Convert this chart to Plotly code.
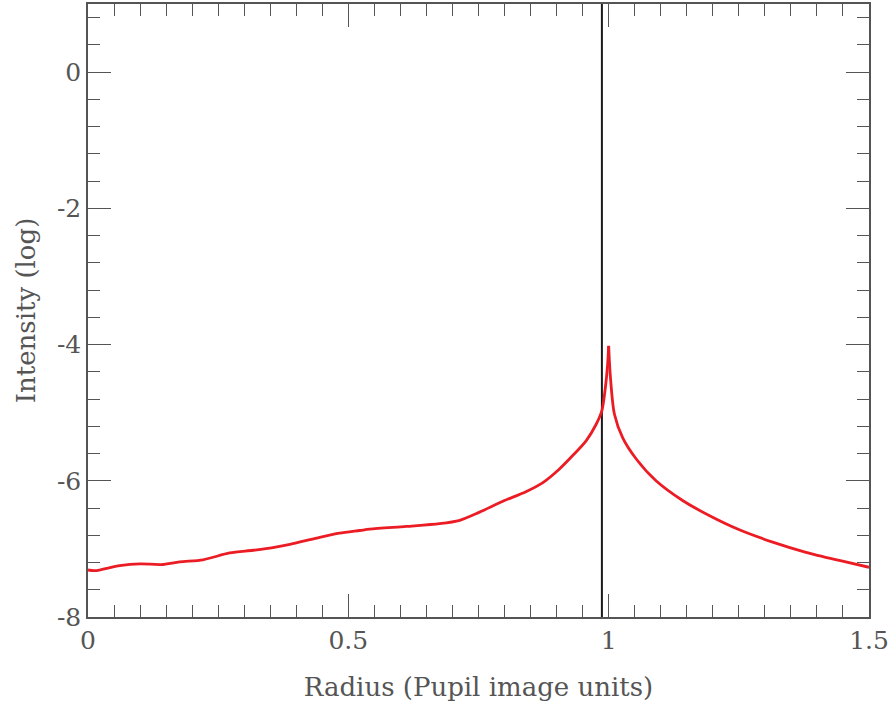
import plotly.graph_objects as go

# Radial intensity profile (log10 scale) across the pupil image
radius = [0.0, 0.013, 0.061, 0.100, 0.141, 0.176, 0.221, 0.272, 0.317, 0.355,
          0.400, 0.445, 0.483, 0.522, 0.541, 0.611, 0.675, 0.714, 0.752, 0.797,
          0.841, 0.873, 0.905, 0.931, 0.957, 0.976, 0.987, 0.9937, 0.998, 1.000,
          1.003, 1.011, 1.027, 1.053, 1.091, 1.142, 1.193, 1.251, 1.315, 1.379,
          1.443, 1.500]
intensity = [-7.31, -7.32, -7.245, -7.22, -7.23, -7.19, -7.16, -7.06, -7.02, -6.98,
             -6.91, -6.83, -6.77, -6.73, -6.71, -6.67, -6.63, -6.58, -6.46, -6.30,
             -6.16, -6.03, -5.83, -5.63, -5.41, -5.17, -4.97, -4.63, -4.29, -4.02,
             -4.44, -5.02, -5.37, -5.68, -6.00, -6.29, -6.51, -6.72, -6.90, -7.05,
             -7.17, -7.27]

# Pupil edge marker
edge_radius = 0.987

x_tickvals = [0, 0.5, 1, 1.5]
x_ticktext = ["0", "0.5", "1", "1.5"]
y_tickvals = [0, -2, -4, -6, -8]
y_ticktext = ["0", "-2", "-4", "-6", "-8"]

grey = "#555555"
red = "#ec1c24"
family = "DejaVu Serif, Liberation Serif, serif"
tick_font = dict(family=family, size=25, color=grey)
title_font = dict(family=family, size=26, color=grey)

fig = go.Figure()
fig.add_trace(go.Scatter(x=[edge_radius, edge_radius], y=[-8, 1], mode="lines",
                         line=dict(color="#1a1a1a", width=2), hoverinfo="skip"))

# The profile peaks in a sharp cusp: draw each flank as its own smooth curve
peak = intensity.index(max(intensity))
for sl in (slice(0, peak + 1), slice(peak, None)):
    fig.add_trace(go.Scatter(x=radius[sl], y=intensity[sl], mode="lines",
                             line=dict(color=red, width=2.8, shape="spline",
                                       smoothing=0.8)))

axis_common = dict(
    showline=True, linecolor=grey, linewidth=1.5, mirror="ticks",
    ticks="inside", tickcolor=grey, tickwidth=1.2, ticklen=23,
    showgrid=False, zeroline=False, tickfont=tick_font,
)
fig.update_xaxes(range=[0, 1.5], tickvals=x_tickvals, ticktext=x_ticktext,
                 minor=dict(dtick=0.05, ticks="inside", ticklen=12,
                            tickcolor=grey, tickwidth=1.2, showgrid=False),
                 title=dict(text="Radius (Pupil image units)", font=title_font,
                            standoff=24),
                 **axis_common)
fig.update_yaxes(range=[-8, 1], tickvals=y_tickvals, ticktext=y_ticktext,
                 minor=dict(dtick=0.4, tick0=0, ticks="inside", ticklen=12,
                            tickcolor=grey, tickwidth=1.2, showgrid=False),
                 title=dict(text="Intensity (log)", font=title_font, standoff=14),
                 **axis_common)

fig.update_layout(
    width=891, height=705, showlegend=False,
    margin=dict(l=88, r=21, t=2, b=88),
    plot_bgcolor="white", paper_bgcolor="white",
    font=tick_font,
)

fig.write_html("out.html")
